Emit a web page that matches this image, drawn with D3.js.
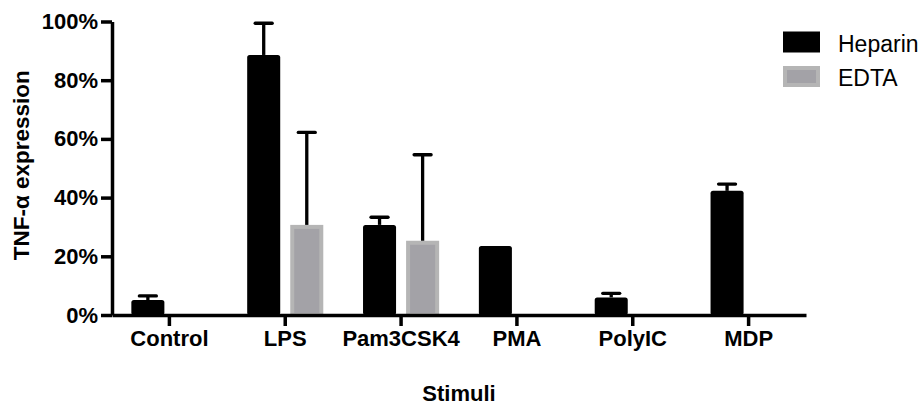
<!DOCTYPE html>
<html>
<head>
<meta charset="utf-8">
<script src="https://cdn.jsdelivr.net/npm/d3@7"></script>
<style>
  body { margin: 0; background: #fff; }
  text { font-family: "Liberation Sans", Arial, sans-serif; }
</style>
</head>
<body>
<div id="graph"></div>
<script>
// Data (percent)
const categories = ["Control", "LPS", "Pam3CSK4", "PMA", "PolyIC", "MDP"]
const series = ["Heparin", "EDTA"]
const heparinMean = [5.1, 88.6, 30.7, 23.5, 6.0, 42.3]
const heparinErr = [1.4, 10.8, 2.6, 0, 1.4, 2.3]
const edtaMean = [null, 30.7, 25.3, null, null, null]
const edtaErr = [null, 31.5, 29.3, null, null, null]
const yTicks = [0, 20, 40, 60, 80, 100]

// Build one row per bar
const data = []
categories.forEach(function(c, i){
  data.push({cat: c, series: "Heparin", mean: heparinMean[i], err: heparinErr[i]})
  data.push({cat: c, series: "EDTA", mean: edtaMean[i], err: edtaErr[i]})
})
const bars = data.filter(d => d.mean != null)

const w = 924
const h = 405
const plotLeft = 112, plotRight = 806, plotTop = 21.5, plotBottom = 315

const svg = d3.select("#graph")
              .append("svg")
              .attr("width", w)
              .attr("height", h)

// Scales
const x0 = d3.scaleBand()
             .domain(categories)
             .range([plotLeft, plotRight])
             .paddingInner(0.343)
             .paddingOuter(0.167)

const x1 = d3.scaleBand()
             .domain(series)
             .range([0, x0.bandwidth()])
             .paddingInner(0.233)

const y = d3.scaleLinear()
            .domain([0, 100])
            .range([plotBottom, plotTop])

// Bars
svg.selectAll("rect.bar")
   .data(bars)
   .enter()
   .append("rect")
   .attr("class", "bar")
   .attr("x", d => x0(d.cat) + x1(d.series) + (d.series == "EDTA" ? 2 : 0))
   .attr("width", d => x1.bandwidth() - (d.series == "EDTA" ? 4 : 0))
   .attr("y", d => y(d.mean) + (d.series == "EDTA" ? 2 : 0))
   .attr("height", d => y(0) - y(d.mean) - (d.series == "EDTA" ? 2 : 0))
   .attr("rx", d => d.series == "EDTA" ? 0 : 2.5)
   .style("fill", d => d.series == "EDTA" ? "#a3a2a7" : "#000")
   .style("stroke", d => d.series == "EDTA" ? "#b5b5b5" : "none")
   .style("stroke-width", 4)

// Error bars (upper half only)
const errs = bars.filter(d => d.err > 0)
svg.selectAll("line.err")
   .data(errs)
   .enter()
   .append("line")
   .attr("class", "err")
   .attr("x1", d => x0(d.cat) + x1(d.series) + x1.bandwidth()/2)
   .attr("x2", d => x0(d.cat) + x1(d.series) + x1.bandwidth()/2)
   .attr("y1", d => y(d.mean))
   .attr("y2", d => y(d.mean + d.err))
   .style("stroke", "#000")
   .style("stroke-width", 3.3)

svg.selectAll("line.cap")
   .data(errs)
   .enter()
   .append("line")
   .attr("class", "cap")
   .attr("x1", d => x0(d.cat) + x1(d.series) + x1.bandwidth()/2 - 8.5)
   .attr("x2", d => x0(d.cat) + x1(d.series) + x1.bandwidth()/2 + 8.5)
   .attr("y1", d => y(d.mean + d.err))
   .attr("y2", d => y(d.mean + d.err))
   .style("stroke", "#000")
   .style("stroke-width", 3.3)
   .style("stroke-linecap", "round")

// X axis
const xAxis = d3.axisBottom(x0)
                .tickSize(11)
                .tickSizeOuter(0)
                .tickPadding(4)

svg.append("g")
   .attr("transform", "translate(0," + plotBottom + ")")
   .call(xAxis)
   .call(g => g.selectAll("path, line").style("stroke", "#000").style("stroke-width", 3.5))
   .call(g => g.selectAll("text").style("font-size", "22px").style("font-weight", "bold").style("fill", "#000"))

// Y axis
const yAxis = d3.axisLeft(y)
                .tickValues(yTicks)
                .tickFormat(d => d + "%")
                .tickSize(11)
                .tickSizeOuter(0)
                .tickPadding(3)

svg.append("g")
   .attr("transform", "translate(" + plotLeft + ",0)")
   .call(yAxis)
   .call(g => g.selectAll("path, line").style("stroke", "#000").style("stroke-width", 3.5))
   .call(g => g.selectAll("text").style("font-size", "22px").style("font-weight", "bold").style("fill", "#000"))

// Axis titles
svg.append("text")
   .attr("x", (plotLeft + plotRight)/2)
   .attr("y", 401)
   .attr("text-anchor", "middle")
   .style("font-size", "22px")
   .style("font-weight", "bold")
   .text("Stimuli")

svg.append("text")
   .attr("transform", "translate(29," + ((plotTop + plotBottom)/2 - 3) + ") rotate(-90)")
   .attr("text-anchor", "middle")
   .style("font-size", "22.5px")
   .style("font-weight", "bold")
   .text("TNF-α expression")

// Legend
const legend = svg.selectAll("g.legend")
                  .data(series)
                  .enter()
                  .append("g")
                  .attr("class", "legend")
                  .attr("transform", (d, i) => "translate(783," + (31.5 + i*34.5) + ")")

legend.append("rect")
      .attr("x", d => d == "EDTA" ? 2 : 0)
      .attr("y", d => d == "EDTA" ? 2 : 0)
      .attr("width", d => d == "EDTA" ? 33 : 37)
      .attr("height", d => d == "EDTA" ? 17 : 21)
      .style("fill", d => d == "EDTA" ? "#a3a2a7" : "#000")
      .style("stroke", d => d == "EDTA" ? "#b5b5b5" : "none")
      .style("stroke-width", 4)

legend.append("text")
      .attr("x", 55)
      .attr("y", 20)
      .style("font-size", "23px")
      .text(d => d)
</script>
</body>
</html>
